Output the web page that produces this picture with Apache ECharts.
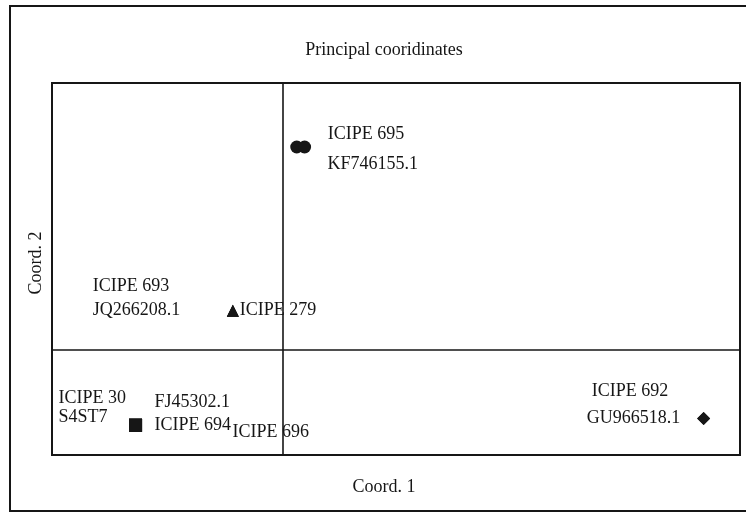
<!DOCTYPE html>
<html>
<head>
<meta charset="utf-8">
<script src="https://cdn.jsdelivr.net/npm/echarts@6/dist/echarts.min.js"></script>
<style>
  html, body { margin: 0; padding: 0; background: #fff; }
  #chart { width: 746px; height: 513px; }
</style>
</head>
<body>
<div id="chart"></div>
<script>
// Principal coordinates scores for each isolate / reference sequence
const sampleNames = ['ICIPE 695', 'KF746155.1', 'ICIPE 279', 'ICIPE 693', 'JQ266208.1',
  'ICIPE 30', 'S4ST7', 'FJ45302.1', 'ICIPE 694', 'ICIPE 696', 'ICIPE 692', 'GU966518.1'];
const coord1 = [0.014, 0.022, -0.051, -0.051, -0.051, -0.150, -0.150, -0.150, -0.150, -0.150, 0.428, 0.428];
const coord2 = [0.272, 0.272, 0.052, 0.052, 0.052, -0.102, -0.102, -0.102, -0.102, -0.102, -0.093, -0.093];
const cluster = ['A', 'A', 'B', 'B', 'B', 'C', 'C', 'C', 'C', 'C', 'D', 'D'];

// marker per cluster
const clusterSymbol = { A: 'circle', B: 'triangle', C: 'rect', D: 'diamond' };
const clusterSize = { A: 13, B: 12, C: 13, D: 13 };

// label placement (text left edge / vertical middle relative to marker centre)
const labelOffset = {
  'ICIPE 695': [31, -13], 'KF746155.1': [23, 17], 'ICIPE 279': [7, 0],
  'ICIPE 693': [-140, -24], 'JQ266208.1': [-140, 0],
  'ICIPE 30': [-77, -27], 'S4ST7': [-77, -8], 'FJ45302.1': [19, -23],
  'ICIPE 694': [19, 0], 'ICIPE 696': [97, 7],
  'ICIPE 692': [-112, -27], 'GU966518.1': [-117, 0]
};

const FONT = 'Liberation Serif, Times New Roman, serif';
const INK = '#161616';

const seriesList = Object.keys(clusterSymbol).map(function (c) {
  const data = [];
  sampleNames.forEach(function (n, i) {
    if (cluster[i] !== c) return;
    data.push({
      name: n,
      value: [coord1[i], coord2[i]],
      label: { offset: labelOffset[n] }
    });
  });
  return {
    type: 'scatter',
    name: c,
    symbol: clusterSymbol[c],
    symbolSize: clusterSize[c],
    itemStyle: { color: INK, opacity: 1 },
    label: {
      show: true,
      position: 'inside',
      align: 'left',
      verticalAlign: 'middle',
      formatter: '{b}',
      color: INK,
      opacity: 1,
      fontFamily: FONT,
      fontSize: 18
    },
    emphasis: { disabled: true },
    data: data
  };
});

const chart = echarts.init(document.getElementById('chart'), null, { renderer: 'canvas' });
chart.setOption({
  animation: false,
  backgroundColor: '#fff',
  grid: {
    left: 52, top: 83, width: 688, height: 372,
    show: true, borderColor: INK, borderWidth: 2, backgroundColor: 'transparent'
  },
  xAxis: {
    type: 'value', min: -0.235, max: 0.465,
    axisLine: { show: true, onZero: true, lineStyle: { color: INK, width: 1.6 } },
    axisTick: { show: false }, axisLabel: { show: false }, splitLine: { show: false }
  },
  yAxis: {
    type: 'value', min: -0.142, max: 0.358,
    axisLine: { show: true, onZero: true, lineStyle: { color: INK, width: 1.6 } },
    axisTick: { show: false }, axisLabel: { show: false }, splitLine: { show: false }
  },
  graphic: [
    {
      type: 'rect', silent: true, z: -1,
      shape: { x: 10, y: 6, width: 760, height: 505 },
      style: { fill: 'none', stroke: INK, lineWidth: 2 }
    },
    {
      type: 'text', x: 384, y: 50,
      style: { text: 'Principal cooridinates', font: '18px ' + FONT, fill: INK,
        textAlign: 'center', textVerticalAlign: 'middle' }
    },
    {
      type: 'text', x: 384, y: 487,
      style: { text: 'Coord. 1', font: '18px ' + FONT, fill: INK,
        textAlign: 'center', textVerticalAlign: 'middle' }
    },
    {
      type: 'text', x: 36, y: 263, rotation: Math.PI / 2,
      style: { text: 'Coord. 2', font: '18px ' + FONT, fill: INK,
        textAlign: 'center', textVerticalAlign: 'middle' }
    }
  ],
  series: seriesList
});
</script>
</body>
</html>
